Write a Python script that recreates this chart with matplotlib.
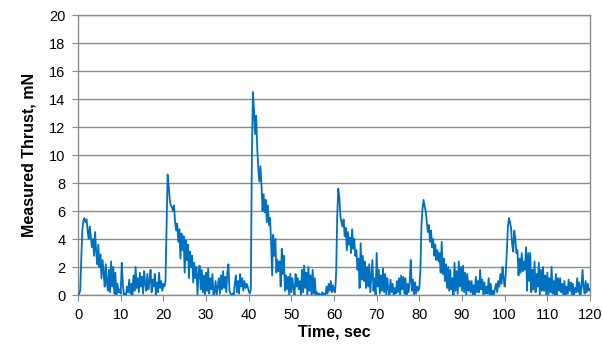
import numpy as np
import matplotlib
matplotlib.use("Agg")
import matplotlib.pyplot as plt

plt.rcParams['font.family'] = ['Liberation Sans', 'DejaVu Sans']

# Thrust samples every 0.25 s (mN)
thrust_00_20 = [0.0, 0.1, 0.3, 2.5, 4.6, 5.3, 5.5, 5.2, 5.4, 4.6, 4.0, 4.9,
                4.2, 3.4, 4.0, 2.8, 4.5, 3.1, 2.2, 3.6, 2.0, 2.9, 1.2, 2.5,
                1.6, 0.6, 2.2, 1.0, 0.3, 1.8, 0.2, 2.4, 0.6, 2.0, 0.1, 1.6,
                0.0, 0.8, 0.2, 0.4, 0.1, 2.3, 0.8, 0.0, 0.1, 0.0, 0.6, 0.2,
                1.1, 0.1, 0.8, 0.0, 1.4, 0.3, 2.0, 0.5, 1.2, 0.2, 1.6, 0.6,
                1.3, 0.1, 1.7, 0.8, 0.3, 1.5, 0.4, 1.0, 1.8, 0.2, 1.1, 0.6,
                1.5, 0.0, 0.9, 0.2, 1.6, 0.5, 1.0, 0.3]
thrust_20_40 = [0.8, 0.6, 1.0, 5.0, 8.6, 7.8, 6.8, 6.4, 6.3, 6.0, 6.4, 5.2,
                4.6, 5.1, 3.8, 4.7, 2.6, 4.4, 3.2, 4.2, 1.6, 3.9, 2.5, 3.6,
                1.2, 3.1, 2.0, 2.8, 0.9, 2.3, 1.2, 2.0, 0.0, 1.6, 2.1, 0.4,
                1.8, 0.2, 1.4, 0.0, 1.6, 0.3, 1.9, 0.1, 1.2, 0.4, 1.5, 0.0,
                0.2, 1.0, 0.0, 0.6, 1.2, 0.1, 1.4, 0.4, 1.7, 0.5, 1.3, 0.2,
                1.6, 2.2, 0.3, 0.1, 0.0, 0.1, 0.0, 0.8, 1.4, 0.2, 1.0, 0.1,
                1.5, 0.6, 1.2, 0.3, 1.0, 0.5, 0.8, 0.6]
thrust_40_60 = [0.3, 0.1, 0.4, 10.0, 14.5, 13.2, 11.5, 12.8, 10.5, 9.0, 8.1, 9.2,
                7.9, 6.0, 7.2, 5.9, 6.8, 5.2, 6.4, 5.0, 5.5, 3.8, 1.4, 4.3,
                2.8, 4.0, 1.6, 2.5, 1.7, 2.4, 0.6, 3.3, 1.5, 2.8, 0.3, 1.4,
                0.4, 1.3, 0.0, 1.5, 0.2, 1.2, 0.5, 0.0, 1.5, 0.6, 1.2, 0.4,
                1.0, 0.0, 1.8, 0.2, 2.1, 0.5, 1.6, 0.0, 2.0, 0.3, 1.4, 0.0,
                1.8, 0.1, 1.2, 0.0, 0.2, 0.0, 0.1, 0.0, 0.0, 0.2, 0.0, 0.1,
                0.0, 0.6, 0.1, 0.8, 0.3, 1.0, 0.2, 0.7]
thrust_60_80 = [0.3, 0.2, 1.5, 5.6, 7.6, 7.0, 5.6, 5.2, 4.9, 5.4, 4.2, 4.8,
                3.2, 4.5, 3.6, 4.1, 3.0, 4.7, 3.3, 4.0, 2.8, 3.2, 1.8, 2.6,
                0.5, 3.7, 1.1, 2.8, 1.0, 2.4, 0.5, 2.0, 0.6, 2.2, 0.2, 1.4,
                2.5, 0.3, 1.2, 0.0, 3.0, 0.6, 1.8, 0.1, 1.4, 0.3, 1.9, 0.2,
                1.5, 0.0, 1.2, 0.4, 0.0, 1.1, 0.2, 0.8, 0.0, 0.5, 0.1, 1.0,
                0.2, 1.2, 0.0, 1.4, 0.4, 1.3, 0.1, 1.2, 0.0, 0.8, 0.2, 1.0,
                2.5, 0.3, 1.1, 0.0, 0.9, 0.1, 0.6, 0.3]
thrust_80_100 = [0.5, 1.8, 5.0, 6.2, 6.8, 6.3, 6.0, 5.2, 4.5, 5.0, 3.8, 4.6,
                 3.4, 4.0, 2.8, 3.6, 2.5, 3.2, 2.4, 3.0, 1.6, 3.8, 1.5, 2.6,
                 1.0, 2.2, 0.5, 2.0, 0.3, 1.8, 0.4, 1.2, 0.0, 2.3, 0.3, 1.7,
                 0.1, 2.4, 0.6, 2.0, 0.3, 2.1, 0.2, 1.6, 0.0, 1.5, 0.3, 1.0,
                 0.2, 1.0, 0.0, 0.7, 0.0, 1.3, 0.2, 1.0, 0.2, 1.8, 0.4, 1.1,
                 0.0, 0.9, 0.1, 0.6, 0.1, 1.2, 0.0, 0.8, 0.0, 0.3, 0.0, 0.5,
                 0.8, 0.2, 1.0, 0.6, 1.5, 0.8, 2.0, 1.2]
thrust_100_120 = [0.6, 1.5, 3.0, 4.8, 5.5, 5.2, 4.8, 3.6, 3.1, 4.6, 4.0, 3.0,
                  3.2, 1.4, 2.6, 1.6, 3.0, 1.7, 2.4, 1.8, 3.4, 0.3, 3.0, 1.0,
                  3.0, 0.2, 1.8, 0.4, 2.4, 0.2, 1.5, 0.6, 2.3, 0.0, 1.8, 0.3,
                  2.0, 0.3, 1.4, 0.0, 1.6, 0.0, 1.2, 0.2, 2.0, 0.1, 1.0, 0.0,
                  1.5, 0.0, 1.2, 0.3, 1.2, 0.2, 0.8, 0.0, 1.0, 0.0, 0.6, 0.1,
                  1.1, 0.3, 0.9, 0.0, 0.8, 0.0, 0.5, 0.2, 1.2, 0.2, 0.9, 0.0,
                  0.5, 1.8, 0.6, 0.1, 1.0, 0.2, 0.8, 0.3, 0.4]
sample_step = 0.25

thrust = np.array(thrust_00_20 + thrust_20_40 + thrust_40_60 +
                  thrust_60_80 + thrust_80_100 + thrust_100_120)
time = np.arange(len(thrust)) * sample_step

x_ticks = list(range(0, 121, 10))
y_ticks = list(range(0, 21, 2))

fig = plt.figure(figsize=(6.03, 3.49), dpi=100)
ax = fig.add_axes([0.1294, 0.1547, 0.8490, 0.8023])

ax.plot(time, thrust, color='#0070C0', lw=1.3, zorder=3)

ax.set_xlim(0, 120)
ax.set_ylim(0, 20)
ax.set_xticks(x_ticks)
ax.set_yticks(y_ticks)
ax.grid(axis='y', color='#8c8c8c', lw=1.0, zorder=0)
for s in ax.spines.values():
    s.set_color('#8c8c8c')
    s.set_linewidth(1.0)
ax.tick_params(axis='both', direction='out', length=4, color='#8c8c8c',
               labelsize=10.5, labelcolor='black', pad=5)

ax.set_xlabel('Time, sec', fontsize=11.5, fontweight='bold', labelpad=2)
ax.set_ylabel('Measured Thrust, mN', fontsize=11.5, fontweight='bold', labelpad=9)

fig.savefig('out.png', dpi=100)
